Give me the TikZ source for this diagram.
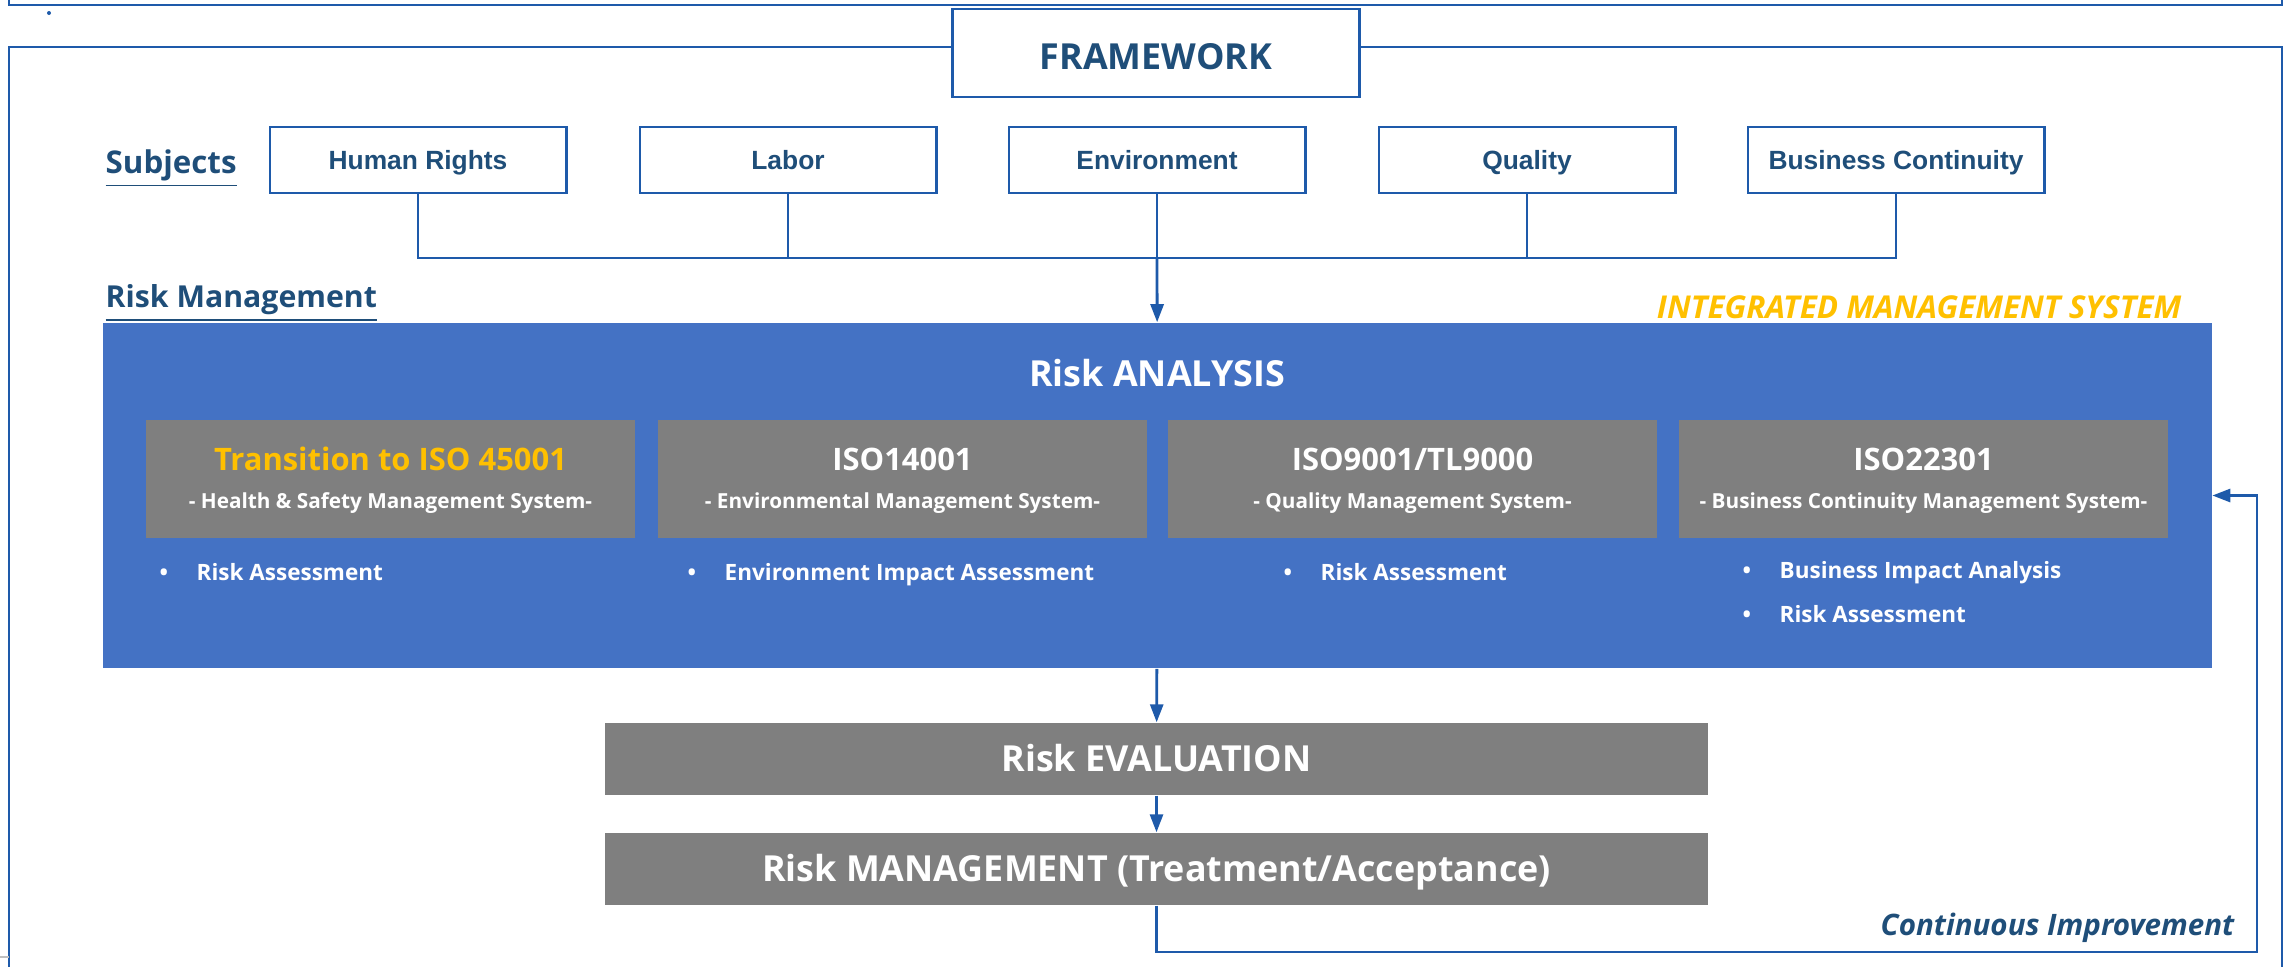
\documentclass[tikz,border=0pt]{standalone}
\usepackage{fontspec}
\setmainfont{Open Sans}
\newfontfamily\arialfont{Liberation Sans}
\usetikzlibrary{arrows.meta}
\definecolor{linec}{RGB}{30,90,170}
\definecolor{darkblue}{RGB}{31,78,121}
\definecolor{riskblue}{RGB}{68,114,196}
\definecolor{boxgray}{RGB}{127,127,127}
\definecolor{imsorange}{RGB}{255,192,0}

\begin{document}
\begin{tikzpicture}[x=0.01cm, y=-0.01cm,
    capc/.style={text height=#1pt*0.92, text depth=#1pt*0.2},
    frameline/.style={draw=linec, line width=0.7pt},
    subject/.style={draw=linec, line width=0.8pt, fill=white, minimum width=2.96cm, minimum height=0.66cm, inner sep=0, capc=7.5, text=darkblue, font=\arialfont\bfseries\fontsize{7.5}{9}\selectfont},
    isobox/.style={fill=boxgray, minimum width=4.89cm, minimum height=1.18cm, inner sep=0},
    stepbox/.style={fill=boxgray, minimum width=11.03cm, minimum height=0.72cm, inner sep=0, capc=10.2, text=white, font=\bfseries\fontsize{10.2}{12}\selectfont},
    isotitle/.style={inner sep=0, capc=8.8, text=white, font=\bfseries\fontsize{8.8}{11}\selectfont},
    isosub/.style={inner sep=0, capc=5.9, text=white, font=\bfseries\fontsize{5.9}{7}\selectfont},
    bulletitem/.style={anchor=west, inner sep=0, capc=6.4, text=white, font=\bfseries\fontsize{6.4}{8}\selectfont},
    heading/.style={anchor=west, inner sep=0, capc=8.9, text=darkblue, font=\bfseries\fontsize{8.9}{10}\selectfont},
    flow/.style={draw=linec, line width=0.8pt, -{Triangle[length=0.18cm, width=0.13cm]}}]
  \useasboundingbox (0,0) rectangle (2288,966);
  \clip (0,0) rectangle (2288,966);
  \draw [frameline] (9,-10) -- (9,5) -- (2282,5) -- (2282,-10);
  \fill [linec] (49,13) circle (0.02cm);
  \draw [frameline] (9,990) -- (9,47) -- (2282,47) -- (2282,990);
  \draw [gray!50, line width=0.8pt] (0,957) -- (9,957);
  \node [draw=linec, line width=0.8pt, fill=white, minimum width=4.06cm, minimum height=0.88cm, inner sep=0, text=darkblue, font=\bfseries\fontsize{10.2}{12}\selectfont] (framework) at (1156,53) {};
  \node [inner sep=0, capc=10.2, text=darkblue, font=\bfseries\fontsize{10.2}{12}\selectfont] (frameworktitle) at (1156,57) {FRAMEWORK};

  \node [heading] (subjects) at (105,162) {\underline{Subjects}};
  \node [subject] (human) at (418,160) {Human Rights};
  \node [subject] (labor) at (788,160) {Labor};
  \node [subject] (environment) at (1157,160) {Environment};
  \node [subject] (quality) at (1527,160) {Quality};
  \node [subject] (continuity) at (1896,160) {Business Continuity};
  \coordinate (join) at (1157,258);
  \draw [frameline] (human) |- (join);
  \draw [frameline] (labor) |- (join);
  \draw [frameline] (quality) |- (join);
  \draw [frameline] (continuity) |- (join);
  \draw [frameline] (environment) -- (join);

  \node [heading, capc=8.6, font=\bfseries\fontsize{8.6}{10}\selectfont] (riskmgmtlabel) at (105,297) {\underline{Risk Management}};
  \node [anchor=east, inner sep=0, capc=8.95, text=imsorange, font=\bfseries\itshape\fontsize{8.95}{10}\selectfont] (ims) at (2182,307) {INTEGRATED MANAGEMENT SYSTEM};
  \node [fill=riskblue, minimum width=21.07cm, minimum height=3.45cm, inner sep=0] (analysis) at (1157.5,495.5) {};
  \draw [flow] (join) -- (analysis);
  \node [inner sep=0, capc=10.2, text=white, font=\bfseries\fontsize{10.2}{12}\selectfont] (analysistitle) at (1157,374) {Risk ANALYSIS};

  \node [isobox] (iso45001) at (390.5,479) {};
  \node [isotitle, text=imsorange] (t45001) at (390.5,459) {Transition to ISO 45001};
  \node [isosub] (s45001) at (390.5,501) {- Health \& Safety Management System-};
  \node [isobox] (iso14001) at (902.5,479) {};
  \node [isotitle] (t14001) at (902.5,459) {ISO14001};
  \node [isosub] (s14001) at (902.5,501) {- Environmental Management System-};
  \node [isobox] (iso9001) at (1412.5,479) {};
  \node [isotitle] (t9001) at (1412.5,459) {ISO9001/TL9000};
  \node [isosub] (s9001) at (1412.5,501) {- Quality Management System-};
  \node [isobox] (iso22301) at (1923.5,479) {};
  \node [isotitle] (t22301) at (1923.5,459) {ISO22301};
  \node [isosub] (s22301) at (1923.5,501) {- Business Continuity Management System-};

  \node [bulletitem] (b45001) at (159,572) {\makebox[0.37cm][l]{•}Risk Assessment};
  \node [bulletitem] (b14001) at (687,572) {\makebox[0.37cm][l]{•}Environment Impact Assessment};
  \node [bulletitem] (b9001) at (1283,572) {\makebox[0.37cm][l]{•}Risk Assessment};
  \node [bulletitem] (b22301a) at (1742,570) {\makebox[0.37cm][l]{•}Business Impact Analysis};
  \node [bulletitem] (b22301b) at (1742,614) {\makebox[0.37cm][l]{•}Risk Assessment};

  \node [stepbox] (evaluation) at (1156.5,759) {Risk EVALUATION};
  \node [stepbox] (riskmgmt) at (1156.5,869) {Risk MANAGEMENT (Treatment/Acceptance)};
  \draw [flow] (analysis) -- (evaluation);
  \draw [flow] (evaluation) -- (riskmgmt);
  \coordinate (loopc) at (2257,952);
  \draw [flow] (riskmgmt) |- (loopc) |- (analysis);
  \node [anchor=east, inner sep=0, capc=8.4, text=darkblue, font=\bfseries\itshape\fontsize{8.4}{10}\selectfont] (improve) at (2235,925) {Continuous Improvement};
\end{tikzpicture}
\end{document}
